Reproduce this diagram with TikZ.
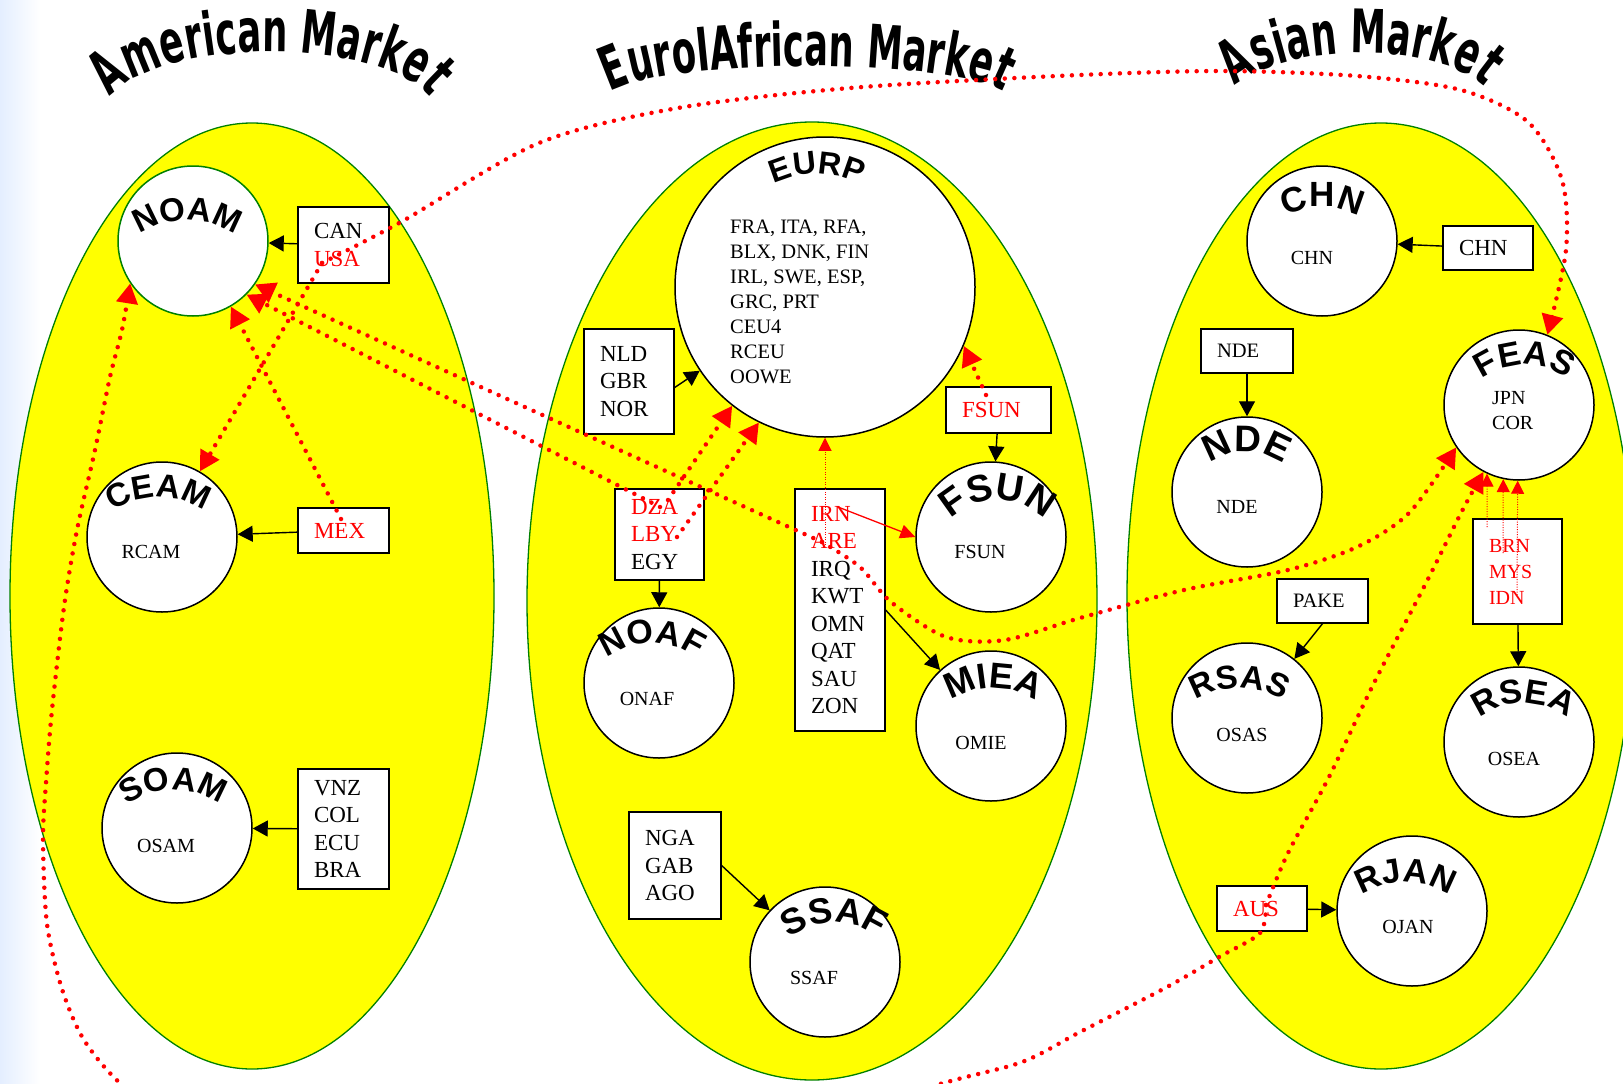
\documentclass[tikz,border=0pt]{standalone}
\usepackage{fontspec}
\setmainfont{Liberation Serif}
\newfontfamily\ttlfam{DejaVu Sans}[FakeStretch=0.59]
\newfontfamily\lblfam{Liberation Sans}
\usetikzlibrary{arrows.meta,decorations.text}
\definecolor{ylw}{RGB}{255,255,0}
\definecolor{grn}{RGB}{0,128,0}
\definecolor{rd}{RGB}{255,0,0}
\definecolor{bgblue}{RGB}{228,238,255}
\newcommand\ttlfont{\ttlfam\bfseries\fontsize{60}{60}\selectfont}
\newcommand\titlearc[5]{%
  \path[decorate,decoration={text along path,text align=center,
    text={|\ttlfont|#5}}]
    ({#1+#3*cos(178)},{-(#2)-(#4)+#4*sin(178)}) arc[start angle=178,end angle=2,x radius=#3,y radius=#4];}
\newcommand\arclabel[5]{%
  \path[decorate,decoration={text along path,text align=center,
    text={|\lblfam\bfseries\fontsize{#4}{#4}\selectfont|#5}}]
    ({#1+#3*cos(160)},{-(#2)-(#3)+#3*sin(160)}) arc[start angle=160,end angle=20,radius=#3];}
\tikzset{
  mkt/.style={draw=grn, line width=1.3pt, fill=ylw},
  reg/.style={circle, draw, line width=1.5pt, fill=white, minimum size=150pt, inner sep=0pt},
  cbox/.style={draw, line width=1.3pt, fill=white, inner xsep=16pt, inner ysep=0pt, align=left, font=\fontsize{23}{27.5}\selectfont},
  itxt/.style={inner sep=0pt, font=\fontsize{20}{25}\selectfont},
  blk/.style={draw, line width=1.4pt, -{Triangle[length=15pt,width=16pt]}},
  reddot/.style={draw=rd, line width=4.5pt, line cap=round, dash pattern=on 0pt off 9.6pt, -{Triangle[length=20pt,width=21pt]}},
  thindot/.style={draw=rd, line width=1pt, dash pattern=on 1pt off 1.5pt, -{Triangle[length=13pt,width=13pt]}},
  redln/.style={draw=rd, line width=1.3pt, -{Triangle[length=15pt,width=14pt]}}
}
\begin{document}
\begin{tikzpicture}[x=1pt,y=1pt]
\useasboundingbox (0,0) rectangle (1623,-1084);
\clip (0,0) rectangle (1623,-1084);
\fill[white] (0,0) rectangle (1623,-1084);
\shade[left color=bgblue, right color=white] (0,0) rectangle (40,-1084);

% market ellipses
\path[mkt] (252,-596) ellipse [x radius=242, y radius=473];
\path[mkt] (812,-601) ellipse [x radius=285, y radius=479];
\path[mkt] (1381,-596) ellipse [x radius=254, y radius=473];

% region circles
\node[reg, draw=grn] (NOAM) at (193,-241) {};
\node[reg] (CEAM) at (162,-537) {};
\node[reg] (SOAM) at (177,-828) {};
\node[reg, minimum size=300pt] (EURP) at (825,-287) {};
\node[reg] (NOAF) at (659,-683) {};
\node[reg] (FSUN) at (991,-537) {};
\node[reg] (MIEA) at (991,-726) {};
\node[reg] (SSAF) at (825,-962) {};
\node[reg] (CHN) at (1322,-241) {};
\node[reg] (NDE) at (1247,-492) {};
\node[reg] (FEAS) at (1519,-405) {};
\node[reg] (RSAS) at (1247,-718) {};
\node[reg] (RSEA) at (1519,-742) {};
\node[reg] (RJAN) at (1412,-911) {};

% inner texts
\node[itxt] (tRCAM) at (151,-552) {RCAM};
\node[itxt] (tOSAM) at (166,-846) {OSAM};
\node[itxt, font=\fontsize{20.5}{25}\selectfont, align=left, anchor=west] (tEURP) at (730,-302)
  {FRA, ITA, RFA,\\BLX, DNK, FIN\\IRL, SWE, ESP,\\GRC, PRT\\CEU4\\RCEU\\OOWE};
\node[itxt] (tONAF) at (647,-699) {ONAF};
\node[itxt] (tFSUN) at (980,-552) {FSUN};
\node[itxt] (tOMIE) at (981,-743) {OMIE};
\node[itxt] (tSSAF) at (814,-978) {SSAF};
\node[itxt] (tCHN) at (1312,-258) {CHN};
\node[itxt] (tNDE) at (1237,-507) {NDE};
\node[itxt, align=left, anchor=west] (tFEAS) at (1492,-410.5) {JPN\\COR};
\node[itxt] (tOSAS) at (1242,-735) {OSAS};
\node[itxt] (tOSEA) at (1514,-759) {OSEA};
\node[itxt] (tOJAN) at (1408,-927) {OJAN};

% arched circle labels
\arclabel{187.5}{220}{85}{33}{NOAM}
\arclabel{158.5}{497}{80}{33}{CEAM}
\arclabel{173}{790}{80}{33}{SOAM}
\arclabel{817}{174}{100}{32}{EURP}
\arclabel{652}{643}{75}{34}{NOAF}
\arclabel{998}{500}{65}{38}{FSUN}
\arclabel{993.5}{688}{75}{36}{MIEA}
\arclabel{834}{923}{75}{36}{SSAF}
\arclabel{1322.5}{207}{75}{35}{CHN}
\arclabel{1246.5}{452}{60}{37}{NDE}
\arclabel{1524.5}{365}{70}{34}{FEAS}
\arclabel{1239.5}{688}{80}{33}{RSAS}
\arclabel{1523.5}{703}{70}{34}{RSEA}
\arclabel{1405.5}{882}{80}{34}{RJAN}

% country boxes
\node[cbox, minimum width=91pt, text width=59pt, minimum height=76pt] (CANbox) at (343.5,-245) {CAN\\\textcolor{rd}{USA}};
\node[cbox, minimum width=91pt, text width=59pt, minimum height=45pt] (MEXbox) at (343.5,-530.5) {\textcolor{rd}{MEX}};
\node[cbox, minimum width=91pt, text width=59pt, minimum height=120pt] (VNZbox) at (343.5,-829) {VNZ\\COL\\ECU\\BRA};
\node[cbox, minimum width=90pt, text width=58pt, minimum height=105pt] (NLDbox) at (629,-381.5) {NLD\\GBR\\NOR};
\node[cbox, minimum width=89pt, text width=57pt, minimum height=91pt] (DZAbox) at (659.5,-534.5) {\textcolor{rd}{DZA}\\\textcolor{rd}{LBY}\\EGY};
\node[cbox, minimum width=90pt, text width=58pt, minimum height=242pt] (IRNbox) at (840,-610) {\textcolor{rd}{IRN}\\\textcolor{rd}{ARE}\\IRQ\\KWT\\OMN\\QAT\\SAU\\ZON};
\node[cbox, minimum width=105pt, text width=73pt, minimum height=46pt] (FSUNbox) at (998.5,-410) {\textcolor{rd}{FSUN}};
\node[cbox, minimum width=92pt, text width=60pt, minimum height=107pt] (NGAbox) at (675,-865.5) {NGA\\GAB\\AGO};
\node[cbox, minimum width=90pt, text width=58pt, minimum height=44pt] (CHNbox) at (1488,-248) {CHN};
\node[cbox, font=\fontsize{20.5}{25}\selectfont, minimum width=92pt, text width=60pt, minimum height=44pt] (NDEbox) at (1247,-351) {NDE};
\node[cbox, font=\fontsize{20}{26}\selectfont, minimum width=89pt, text width=57pt, minimum height=105pt] (BRNbox) at (1517.5,-571.5) {\textcolor{rd}{BRN}\\\textcolor{rd}{MYS}\\\textcolor{rd}{IDN}};
\node[cbox, font=\fontsize{20.5}{25}\selectfont, minimum width=91pt, text width=59pt, minimum height=44pt] (PAKEbox) at (1322.5,-601) {PAKE};
\node[cbox, minimum width=90pt, text width=58pt, minimum height=45pt] (AUSbox) at (1262,-908.5) {\textcolor{rd}{AUS}};

% black connectors
\draw[blk] (CANbox) -- (NOAM);
\draw[blk] (MEXbox) -- (CEAM);
\draw[blk] (VNZbox) -- (SOAM);
\draw[blk] ([yshift=-6pt]NLDbox.east) -- (EURP);
\draw[blk] (DZAbox) -- (NOAF);
\draw[blk] (IRNbox.east) -- (MIEA);
\draw[blk] (FSUNbox) -- (FSUN);
\draw[blk] (NGAbox.east) -- (SSAF);
\draw[blk] (CHNbox) -- (CHN);
\draw[blk] (NDEbox) -- (NDE);
\draw[blk] (BRNbox) -- (RSEA);
\draw[blk] (PAKEbox.south) -- (RSAS);
\draw[blk] (AUSbox) -- (RJAN);

% titles
\titlearc{270}{52}{165}{61}{American Market}
\titlearc{807}{66}{203}{35}{EuroIAfrican Market}
\titlearc{1360}{53}{133}{53}{Asian Market}

% red connectors
\coordinate (usaC) at (322,-263);
\coordinate (mexC) at (341,-519);
\coordinate (dzaC) at (660,-507);
\coordinate (dzaC2) at (668,-500);
\coordinate (lbyC) at (677,-537);
\coordinate (areC) at (822,-542);
\coordinate (irnC) at (838,-507);
\coordinate (irnD) at (825,-545);
\coordinate (fsunC) at (986,-395);
\coordinate (ausC) at (1266,-905);
\coordinate (brnC1) at (1487,-527);
\coordinate (brnC2) at (1503,-553);
\coordinate (brnC3) at (1517,-595);

\draw[thindot] (irnD) -- (EURP.south);
\draw[thindot] (brnC1) -- (FEAS.-115);
\draw[thindot] (brnC2) -- (FEAS.-102);
\draw[thindot] (brnC3) -- (FEAS.-91);
\draw[redln] (irnC) -- (FSUN.west);

\draw[reddot] plot[smooth] coordinates {(usaC) (401,-222) (539,-143) (678,-108) (850,-88) (1057,-76) (1219,-71) (1357,-76) (1461,-90) (1528,-122) (1562,-180) (1566,-250) (FEAS.68)};
\draw[reddot] (usaC) -- (CEAM.60);
\draw[reddot] (mexC) -- (NOAM.-60);
\draw[reddot] (dzaC) -- (NOAM.-45);
\draw[reddot] (areC) -- (NOAM.-35);
\draw[reddot] plot[smooth] coordinates {(areC) (860,-567) (891,-602) (946,-637) (1005,-640) (1080,-618) (1184,-590) (1288,-570) (1357,-547) (1409,-513) (FEAS.214)};
\draw[reddot] (dzaC2) -- (EURP.232);
\draw[reddot] (lbyC) -- (EURP.244);
\draw[reddot] (fsunC) -- (EURP.-23);
\draw[reddot] plot[smooth] coordinates {(ausC) (1288,-853) (1329,-777) (1374,-683) (1426,-583) (1461,-513) (FEAS.242)};
\draw[reddot] plot[smooth] coordinates {(ausC) (1260,-933) (1219,-957) (1167,-987) (1080,-1032) (1022,-1062) (940,-1084) (750,-1140) (500,-1170) (300,-1160) (180,-1125) (121,-1084) (84,-1040) (62,-989) (47,-924) (43,-840) (46,-783) (52,-710) (64,-607) (77,-530) (95,-450) (110,-377) (122,-330) (NOAM.214)};
\end{tikzpicture}
\end{document}
